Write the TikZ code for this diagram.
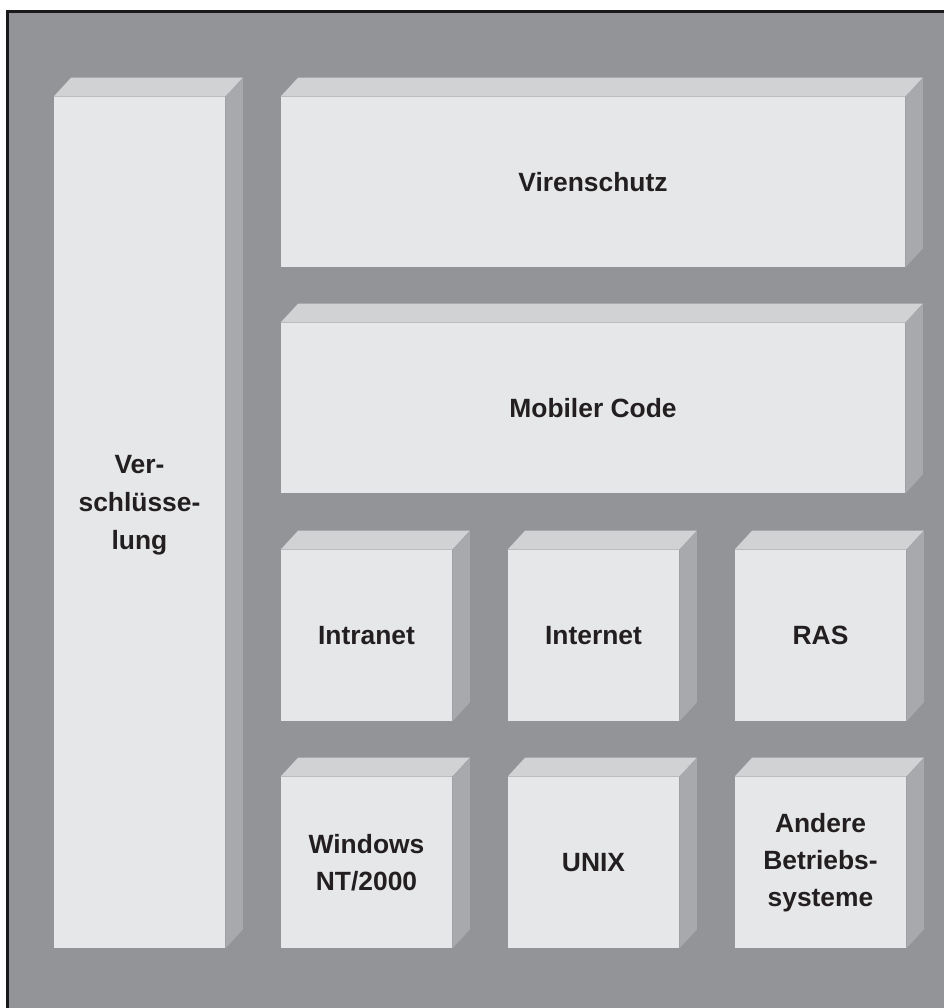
\documentclass[tikz,border=0pt]{standalone}
\usepackage{fontspec}
\setmainfont{Liberation Sans}
\usetikzlibrary{positioning}

\definecolor{bgGray}{HTML}{939498}
\definecolor{frontFace}{HTML}{E6E7E8}
\definecolor{topFace}{HTML}{D1D2D4}
\definecolor{sideFace}{HTML}{A7A9AC}
\definecolor{textBlack}{HTML}{231F20}

\tikzset{
  face/.style={fill=frontFace, inner sep=0pt, align=center, text=textBlack,
    font=\fontsize{13.2}{18.5}\selectfont\bfseries},
  smallface/.style={face, minimum width=85.5pt, minimum height=85.5pt},
  wideface/.style={face, minimum width=312pt, minimum height=85pt},
  tallface/.style={face, minimum width=85.5pt, minimum height=425.5pt},
  facetext/.style={inner sep=0pt, align=center, text=textBlack,
    font=\fontsize{13.2}{19}\selectfont\bfseries}
}

\begin{document}
\begin{tikzpicture}[x=0.5pt, y=-0.5pt]
    % Rahmen
    \useasboundingbox (0,0) rectangle (944,1008);
    \fill[white] (0,0) rectangle (944,1008);
    \fill[bgGray] (7.5,11.5) rectangle (944,1008);
    \draw[line width=1.5pt, black!90] (7.5,1008) -- (7.5,11.5) -- (944,11.5);

    % Bausteine
    \node[tallface] (crypt) at (139.5,522.5) {};
    \node[facetext] (cryptText) at (139.5,505) {Ver-\\schlüsse-\\lung};
    \node[wideface] (virus) at (593,182) {Virenschutz};
    \node[wideface] (mobile) at (593,408) {Mobiler Code};
    \node[smallface] (intranet) at (366.5,635.5) {Intranet};
    \node[smallface] (internet) at (593.5,635.5) {Internet};
    \node[smallface] (ras) at (820.5,635.5) {RAS};
    \node[smallface] (windows) at (366.5,862.5) {Windows\\NT/2000};
    \node[smallface] (unix) at (593.5,862.5) {UNIX};
    \node[smallface] (other) at (820.5,862.5) {Andere\\Betriebs-\\systeme};

    % Tiefe
    \foreach \b in {crypt,virus,mobile,intranet,internet,ras,windows,unix,other} {
      \fill[topFace] (\b.north west) -- ++(8.75pt,9.5pt)
        -- ([shift={(8.75pt,9.5pt)}]\b.north east) -- (\b.north east) -- cycle;
      \fill[sideFace] (\b.north east) -- ++(8.75pt,9.5pt)
        -- ([shift={(8.75pt,9.5pt)}]\b.south east) -- (\b.south east) -- cycle;
    }
\end{tikzpicture}
\end{document}
